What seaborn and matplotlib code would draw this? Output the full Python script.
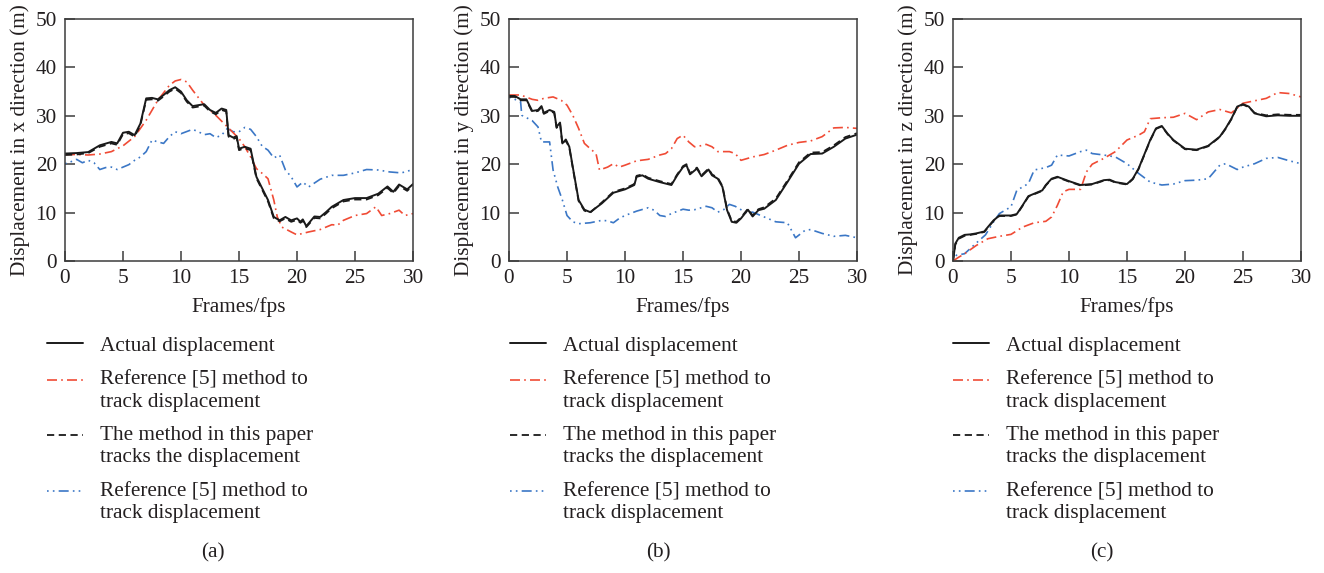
"""
Three-panel displacement tracking comparison (x, y, z directions).
"""
import numpy as np
import matplotlib.pyplot as plt
import seaborn as sns
from matplotlib.legend_handler import HandlerLine2D

# ---- panel (a): x direction ----
a_act_x = [0, 1, 2, 3, 4, 4.5, 5, 5.5, 6, 6.5, 7, 7.5, 8, 8.5, 9, 9.5, 10, 10.5, 11, 12, 12.5, 13, 13.5, 13.9,
           14.1, 14.5, 14.8, 15, 15.5, 16, 16.5, 17, 17.5, 18, 18.5, 19, 19.5, 20, 20.3, 20.5, 20.8, 21.5, 22,
           22.5, 23, 24, 25, 26, 27, 27.8, 28.3, 28.8, 29.5, 30]
a_act_y = [22.2, 22.3, 22.5, 23.9, 24.6, 24.3, 26.5, 26.7, 26.0, 28.4, 33.6, 33.7, 33.4, 34.3, 35.3, 35.9, 35.0,
           33.2, 32.0, 32.4, 31.2, 30.6, 31.5, 31.2, 26.0, 25.5, 25.8, 23.2, 23.6, 23.2, 17.4, 15.0, 12.6, 9.1,
           8.4, 9.1, 8.4, 8.8, 8.1, 8.6, 7.2, 9.2, 9.1, 10.1, 11.2, 12.6, 13.0, 13.0, 13.9, 15.4, 14.3, 15.8,
           14.8, 15.9]
a_prop_y = [21.9, 22.0, 22.3, 23.6, 24.3, 24.0, 26.2, 26.4, 25.7, 28.1, 33.3, 33.4, 33.1, 34.0, 35.0, 35.6, 34.7,
            32.9, 31.7, 32.1, 30.9, 30.3, 31.2, 30.9, 25.7, 25.2, 25.5, 22.9, 23.3, 22.9, 17.1, 14.7, 12.3, 8.8,
            8.2, 8.8, 8.1, 8.5, 7.9, 8.3, 7.0, 8.9, 8.8, 9.8, 10.9, 12.3, 12.7, 12.7, 13.6, 15.1, 14.0, 15.5,
            14.5, 15.6]
a_red_x = [0, 1, 2, 3, 4, 5, 6, 7, 8, 9, 9.5, 10, 10.5, 11, 12, 13, 14, 15, 15.5, 16, 16.5, 17, 17.5, 18, 18.3,
           18.7, 19.5, 20, 21, 22, 23, 23.5, 24, 25, 26, 26.8, 27.3, 28, 28.8, 29.3, 30]
a_red_y = [22.0, 22.0, 21.9, 22.1, 22.6, 23.8, 25.7, 29.1, 33.2, 36.3, 37.2, 37.5, 37.0, 35.3, 32.2, 30.1, 27.7,
           25.3, 23.6, 21.5, 19.1, 18.1, 17.0, 12.6, 9.1, 7.0, 6.0, 5.4, 6.0, 6.5, 7.5, 7.4, 8.4, 9.4, 9.8, 11.2,
           9.4, 9.8, 10.5, 9.4, 9.8]
a_blue_x = [0, 0.5, 1, 1.5, 2, 2.5, 3, 3.5, 4, 4.5, 5, 5.5, 6, 6.5, 7, 7.5, 8, 8.5, 9, 9.5, 10, 11, 11.5, 12, 12.5,
            13, 13.5, 14, 14.5, 15, 15.5, 16, 16.5, 17, 17.5, 18, 18.5, 19, 19.5, 20, 20.5, 21, 21.5, 22, 23, 24,
            25, 26, 27, 28, 29, 30]
a_blue_y = [20.1, 20.5, 21.0, 20.3, 20.8, 20.3, 18.9, 19.3, 19.4, 18.9, 19.4, 19.9, 20.8, 21.5, 22.6, 25.0, 24.6,
            24.3, 25.7, 26.7, 26.3, 27.2, 26.7, 26.1, 26.3, 25.5, 26.0, 27.4, 26.7, 26.7, 27.6, 27.2, 25.7, 23.7,
            22.9, 21.3, 21.9, 18.8, 17.4, 15.3, 16.3, 15.3, 16.1, 16.9, 17.7, 17.7, 18.2, 18.9, 18.8, 18.4, 18.2,
            18.9]

# ---- panel (b): y direction ----
b_act_x = [0, 0.5, 1, 1.5, 2, 2.5, 2.8, 3, 3.5, 3.9, 4.1, 4.4, 4.6, 4.9, 5.2, 5.5, 5.8, 6, 6.5, 7, 8, 9, 10, 10.8,
           11, 11.5, 12, 13, 14, 14.5, 15, 15.3, 15.6, 16.2, 16.6, 17.2, 17.5, 18, 18.4, 18.8, 19.2, 19.6, 20,
           20.6, 21, 21.5, 22, 23, 24, 25, 26, 27, 28, 29, 30]
b_act_y = [34.1, 34.1, 33.4, 33.4, 31.0, 31.2, 32.0, 30.6, 31.2, 30.8, 27.7, 28.6, 24.3, 25.1, 23.6, 19.4, 15.3,
           12.6, 10.6, 10.1, 11.9, 14.1, 14.8, 15.7, 17.4, 17.7, 17.0, 16.3, 15.7, 17.7, 19.4, 19.8, 17.9, 19.1,
           17.5, 18.9, 17.7, 17.0, 15.3, 10.5, 8.1, 7.9, 8.8, 10.6, 9.2, 10.5, 10.8, 12.6, 16.3, 20.1, 22.1, 22.2,
           23.6, 25.3, 26.1]
b_prop_y = [33.9, 33.9, 33.2, 33.2, 30.8, 31.0, 31.8, 30.4, 31.0, 30.6, 27.5, 28.4, 24.1, 24.9, 23.4, 19.2, 15.1,
            12.4, 10.4, 10.0, 12.1, 14.3, 15.0, 15.9, 17.6, 17.9, 17.2, 16.5, 15.9, 17.9, 19.6, 20.0, 18.1, 19.3,
            17.7, 19.1, 17.9, 17.2, 15.5, 10.7, 8.3, 8.1, 9.0, 10.8, 9.4, 10.7, 11.1, 12.9, 16.6, 20.4, 22.4, 22.5,
            23.9, 25.6, 26.4]
b_red_x = [0, 1, 2, 2.5, 3, 3.8, 4.5, 5, 5.5, 6, 6.5, 7, 7.5, 7.8, 8.5, 9, 9.5, 10, 11, 12, 13, 13.5, 14, 14.5,
           15, 15.5, 16, 16.5, 17, 17.5, 18, 19, 19.5, 20, 21, 22, 23, 24, 25, 26, 27, 28, 29, 30]
b_red_y = [34.3, 34.3, 33.4, 33.2, 33.6, 33.9, 33.2, 32.2, 30.1, 27.4, 24.3, 23.2, 22.2, 18.8, 19.4, 20.1, 19.4,
           19.8, 20.7, 21.0, 21.9, 22.2, 23.2, 25.3, 26.0, 24.6, 23.6, 23.8, 24.1, 23.6, 22.6, 22.6, 22.2, 20.8,
           21.5, 22.0, 22.9, 23.9, 24.5, 24.8, 25.7, 27.5, 27.6, 27.4]
b_blue_x = [0, 0.5, 1, 1.1, 2, 2.5, 2.8, 3.5, 3.8, 4.2, 4.6, 5, 5.5, 6, 7, 8, 8.5, 9, 9.5, 10, 11, 12, 12.5, 13,
            13.5, 14, 15, 15.5, 16, 17, 17.5, 18, 18.5, 19, 19.5, 20, 20.5, 21, 22, 23, 24, 24.7, 25.5, 26, 27,
            28, 29, 30]
b_blue_y = [33.8, 33.4, 32.9, 30.1, 29.0, 27.7, 24.6, 24.6, 18.8, 15.3, 12.6, 9.4, 8.1, 7.7, 7.9, 8.4, 8.3, 7.9,
            8.8, 9.4, 10.3, 11.0, 10.5, 9.4, 9.2, 9.8, 10.7, 10.5, 10.6, 11.3, 11.0, 10.1, 10.6, 11.7, 11.3, 10.6,
            9.9, 10.1, 9.1, 8.1, 7.9, 4.8, 6.3, 6.5, 5.7, 5.1, 5.3, 4.8]

# ---- panel (c): z direction ----
c_act_x = [0, 0.2, 0.5, 1, 1.5, 2, 2.7, 3, 3.5, 4, 5, 5.5, 6, 6.5, 7, 7.7, 8, 8.5, 9, 10, 11, 12, 13, 13.5, 14,
           15, 15.5, 16, 17, 17.5, 18, 18.5, 19, 20, 21, 22, 23, 23.5, 24, 24.5, 25, 25.5, 26, 27, 28, 29, 30]
c_act_y = [0, 3.6, 4.8, 5.4, 5.5, 5.7, 6.1, 7.0, 8.4, 9.4, 9.4, 9.7, 11.5, 13.4, 13.9, 14.6, 15.7, 17.0, 17.4,
           16.5, 15.7, 15.9, 16.7, 16.8, 16.3, 15.9, 17.0, 19.1, 25.0, 27.4, 27.9, 26.3, 25.0, 23.2, 23.0, 23.8,
           25.7, 27.4, 29.4, 31.9, 32.4, 31.9, 30.5, 29.9, 30.1, 30.0, 30.0]
c_prop_y = [0, 3.4, 4.6, 5.2, 5.4, 5.6, 6.0, 6.9, 8.3, 9.3, 9.3, 9.6, 11.4, 13.3, 13.8, 14.5, 15.6, 16.9, 17.3,
            16.4, 15.6, 15.8, 16.6, 16.7, 16.2, 15.8, 16.9, 19.0, 24.9, 27.3, 27.8, 26.2, 24.9, 23.1, 22.9, 23.7,
            25.6, 27.3, 29.3, 31.8, 32.3, 31.8, 30.6, 30.1, 30.3, 30.2, 30.2]
c_red_x = [0, 0.5, 1, 2, 3, 4, 5, 6, 7, 8, 8.5, 9, 9.5, 10, 11, 11.5, 12, 13, 14, 15, 16, 16.5, 17, 18, 19, 20,
           21, 22, 23, 24, 25, 26, 27, 28, 29, 30]
c_red_y = [0, 0.8, 1.5, 3.2, 4.6, 5.1, 5.5, 7.0, 7.9, 8.2, 9.1, 11.5, 14.3, 14.8, 14.8, 18.4, 20.0, 21.2, 22.6,
           25.0, 26.0, 26.7, 29.4, 29.6, 29.7, 30.5, 29.2, 30.8, 31.3, 30.6, 32.6, 33.1, 33.6, 34.8, 34.6, 33.9]
c_blue_x = [0, 0.3, 1, 2, 2.8, 3.5, 4, 5, 5.5, 6.5, 7, 8, 8.5, 9, 10, 11, 11.5, 12, 13, 14, 15, 16, 17, 18, 19,
            20, 21, 22, 23, 23.5, 24.5, 25, 26, 27, 28, 29, 30]
c_blue_y = [0, 1.2, 1.5, 3.7, 5.4, 8.1, 9.8, 11.2, 14.6, 16.0, 18.8, 19.3, 19.8, 21.9, 21.7, 22.6, 22.9, 22.2,
            21.9, 21.5, 20.1, 18.1, 16.3, 15.7, 15.9, 16.6, 16.7, 17.0, 19.8, 20.1, 18.9, 19.4, 20.1, 21.2, 21.4,
            20.7, 20.1]

axis_names = ["x", "y", "z"]
captions = ["(a)", "(b)", "(c)"]
x_ticks = [0, 5, 10, 15, 20, 25, 30]
y_ticks = [0, 10, 20, 30, 40, 50]

labels = [
    "Actual displacement",
    "Reference [5] method to\ntrack displacement",
    "The method in this paper\ntracks the displacement",
    "Reference [5] method to\ntrack displacement",
]

panels = [
    (a_act_x, a_act_y, a_prop_y, a_red_x, a_red_y, a_blue_x, a_blue_y),
    (b_act_x, b_act_y, b_prop_y, b_red_x, b_red_y, b_blue_x, b_blue_y),
    (c_act_x, c_act_y, c_prop_y, c_red_x, c_red_y, c_blue_x, c_blue_y),
]

INK = "#231f20"
SPINE = "#3c3c3c"
RED = "#f04b35"
BLUE = "#3b77c6"
FS = 15.3

sns.set_style("ticks")
plt.rcParams["font.family"] = ["Liberation Serif", "DejaVu Serif"]
plt.rcParams["font.size"] = FS
plt.rcParams["text.color"] = INK
plt.rcParams["axes.labelcolor"] = INK


class FirstLineHandler(HandlerLine2D):
    """Put the legend sample next to the first line of a multi-line label."""

    def __init__(self, n_lines=1, **kw):
        super().__init__(**kw)
        self.n_lines = n_lines

    def create_artists(self, legend, orig_handle, xdescent, ydescent, width, height, fontsize, trans):
        arts = super().create_artists(legend, orig_handle, xdescent, ydescent, width, height, fontsize, trans)
        shift = 0.5 * (self.n_lines - 1) * 1.04 * fontsize
        for a in arts:
            a.set_ydata(np.asarray(a.get_ydata(), dtype=float) + shift)
        return arts


fig = plt.figure(figsize=(13.24, 5.73), dpi=100)
ax_left_px = [65, 509, 953]
legend_left_px = [47, 510, 953]
caption_x_px = [213, 658, 1102]
W, H = 1324, 573

for i, (ax_x, act_y, prop_y, red_x, red_y, blue_x, blue_y) in enumerate(panels):
    ax = fig.add_axes([ax_left_px[i] / W, (H - 261) / H, 348 / W, 242 / H])

    common = dict(ax=ax, estimator=None, errorbar=None, legend=False)
    sns.lineplot(x=blue_x, y=blue_y, color=BLUE, linewidth=1.2,
                 linestyle=(0, (1, 2.5, 1, 2.5, 6, 2.5)), **common)
    sns.lineplot(x=red_x, y=red_y, color=RED, linewidth=1.2,
                 linestyle=(0, (6, 2.5, 1, 2.5)), **common)
    sns.lineplot(x=ax_x, y=prop_y, color="#1a1a1a", linewidth=1.3,
                 linestyle=(0, (4, 2.5)), **common)
    sns.lineplot(x=ax_x, y=act_y, color="#1a1a1a", linewidth=1.4, linestyle="-", **common)

    blue_ln, red_ln, prop_ln, act_ln = ax.get_lines()[:4]

    ax.set_xlim(0, 30)
    ax.set_ylim(0, 50)
    ax.set_xticks(x_ticks)
    ax.set_yticks(y_ticks)
    ax.set_xlabel("Frames/fps", labelpad=6)
    ax.set_ylabel(f"Displacement in {axis_names[i]} direction (m)", labelpad=4)
    ax.tick_params(direction="in", length=7, width=1.1, top=False, right=False,
                   color=SPINE, labelcolor=INK, labelsize=FS, pad=6)
    for sp in ax.spines.values():
        sp.set_color(SPINE)
        sp.set_linewidth(1.1)

    handles = [act_ln, red_ln, prop_ln, blue_ln]
    hmap = {h: FirstLineHandler(lab.count("\n") + 1) for h, lab in zip(handles, labels)}
    ax.legend(handles, labels, handler_map=hmap, loc="upper left",
              bbox_to_anchor=(legend_left_px[i] / W, (H - 336) / H), bbox_transform=fig.transFigure,
              frameon=False, borderpad=0, borderaxespad=0, handlelength=1.7, handletextpad=0.8,
              labelspacing=0.7, fontsize=FS)

    fig.text(caption_x_px[i] / W, 1 - 553 / H, captions[i], ha="center", va="center", fontsize=FS)

fig.savefig("out.png", dpi=100)
